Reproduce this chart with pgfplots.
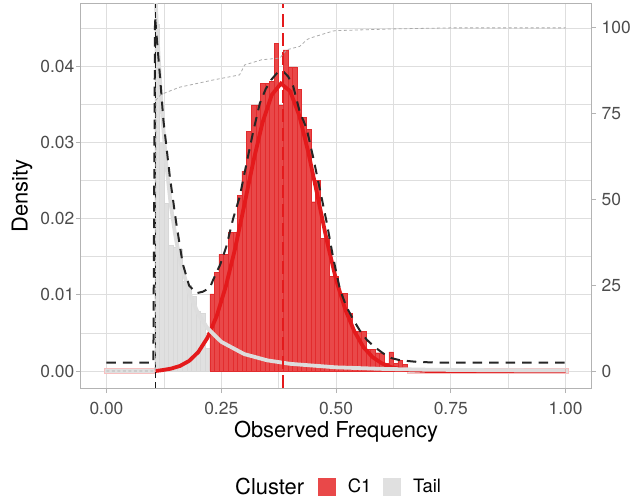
\documentclass[border=0pt]{standalone}
\usepackage{pgfplots}
\pgfplotsset{compat=1.18}
\usepackage{fontspec}
\setmainfont{TeX Gyre Heros}
\definecolor{redbar}{RGB}{233,72,73}
\definecolor{rededge}{RGB}{226,44,46}
\definecolor{redline}{RGB}{228,26,28}
\definecolor{graybar}{RGB}{224,224,224}
\definecolor{grayedge}{RGB}{216,216,216}
\definecolor{grayline}{RGB}{221,221,221}
\definecolor{gridc}{RGB}{222,222,222}
\definecolor{tickc}{RGB}{77,77,77}
\definecolor{framec}{RGB}{179,179,179}
\definecolor{cumc}{RGB}{170,170,170}

\pgfplotstableread{
x y
0.105 0.0455
0.115 0.0300
0.125 0.0220
0.135 0.0165
0.145 0.0162
0.155 0.0160
0.165 0.0118
0.175 0.0112
0.185 0.0098
0.195 0.0078
0.205 0.0076
0.215 0.0030
0.225 0.0030
}\tailbars

\pgfplotstableread{
x y
0.225 0.0101
0.235 0.0129
0.245 0.0153
0.255 0.0153
0.265 0.0182
0.275 0.0182
0.285 0.0230
0.295 0.0262
0.305 0.0314
0.315 0.0349
0.325 0.0349
0.335 0.0377
0.345 0.0377
0.355 0.0380
0.365 0.0430
0.375 0.0349
0.385 0.0421
0.395 0.0399
0.405 0.0399
0.415 0.0369
0.425 0.0333
0.435 0.0317
0.445 0.0222
0.455 0.0250
0.465 0.0174
0.475 0.0174
0.485 0.0124
0.495 0.0124
0.505 0.0102
0.515 0.0102
0.525 0.0076
0.535 0.0052
0.545 0.0052
0.555 0.0052
0.565 0.0028
0.575 0.0028
0.585 0.0024
0.595 0.0024
0.605 0.0010
0.615 0.0025
0.625 0.0010
0.635 0.0014
0.645 0.0009
0.655 0.0009
}\cbars

\pgfplotstableread{
x y
0.107 0.0000
0.120 0.0001
0.140 0.0003
0.160 0.00066
0.180 0.00132
0.200 0.00248
0.220 0.00436
0.240 0.00719
0.260 0.0111
0.280 0.0160
0.300 0.0217
0.320 0.0275
0.340 0.0326
0.360 0.0362
0.380 0.0377
0.400 0.0367
0.420 0.0335
0.440 0.0286
0.460 0.0229
0.480 0.0171
0.500 0.0120
0.520 0.0081
0.540 0.0052
0.560 0.0031
0.580 0.0018
0.600 0.0010
0.620 0.0005
0.650 0.00015
0.700 0.0000
1.000 0.0000
}\ccurve

\pgfplotstableread{
x y
0.107 0.0489
0.110 0.0450
0.120 0.03466
0.130 0.02727
0.140 0.02183
0.150 0.01775
0.160 0.01462
0.180 0.01027
0.200 0.00749
0.220 0.005625
0.250 0.00383
0.300 0.00222
0.350 0.00140
0.400 0.00094
0.500 0.00048
0.600 0.00028
0.700 0.00017
0.800 0.00012
0.900 0.00008
1.000 0.00006
}\tcurve

\pgfplotstableread{
x y
0.000 0.0011
0.1022 0.0011
0.1058 0.0465
0.1094 0.0438
0.1166 0.0386
0.124 0.0329
0.138 0.0255
0.152 0.0194
0.166 0.0141
0.180 0.0112
0.196 0.0102
0.210 0.0104
0.225 0.0109
0.232 0.0119
0.248 0.0140
0.261 0.0163
0.276 0.0200
0.290 0.0228
0.305 0.0272
0.320 0.0315
0.334 0.0351
0.347 0.0370
0.359 0.0382
0.372 0.0391
0.385 0.0393
0.396 0.0386
0.407 0.0373
0.421 0.0340
0.436 0.0318
0.450 0.0281
0.465 0.0238
0.480 0.0194
0.494 0.0148
0.509 0.0106
0.523 0.0084
0.538 0.0067
0.552 0.0053
0.567 0.0041
0.585 0.0031
0.603 0.0023
0.620 0.0017
0.640 0.0014
0.676 0.0012
0.720 0.0011
1.000 0.0011
}\dens

\pgfplotstableread{
x y
0.000 0.0
0.106 0.0
0.108 79.0
0.119 80.6
0.159 82.7
0.232 84.8
0.290 86.3
0.301 89.2
0.338 90.7
0.378 91.2
0.392 93.6
0.421 94.6
0.436 96.5
0.443 97.0
0.494 99.1
0.501 99.2
0.625 99.7
0.750 100.0
1.000 100.0
}\cum

\begin{document}
\begin{tikzpicture}
\pgfplotsset{
  base/.style={
    at={(0,0)}, anchor=south west,
    scale only axis, width=510bp, height=384bp,
    xmin=-0.0555, xmax=1.0555,
    /pgf/number format/assume math mode=true,
    scaled ticks=false,
    tick align=outside, major tick length=5bp, minor tick length=0pt,
    tick style={framec, line width=0.9bp},
    ticklabel style={font=\fontsize{17.5}{20}\selectfont, text=tickc},
  }
}
\begin{axis}[base,
  ymin=-0.00223, ymax=0.04813,
  clip mode=individual,
  axis line style={framec, line width=1bp},
  tick pos=left,
  xtick={0,0.25,0.5,0.75,1}, xticklabels={0.00,0.25,0.50,0.75,1.00},
  ytick={0,0.01,0.02,0.03,0.04}, yticklabels={0.00,0.01,0.02,0.03,0.04},
  minor xtick={0.125,0.375,0.625,0.875},
  minor ytick={0.005,0.015,0.025,0.035,0.045},
  grid=both,
  major grid style={gridc, line width=0.9bp},
  minor grid style={gridc, line width=0.6bp},
  xlabel={Observed Frequency}, ylabel={Density},
  label style={font=\fontsize{22}{24}\selectfont, text=black},
  xlabel style={yshift=-1bp},
  ylabel style={yshift=3bp},
  yticklabel style={inner sep=1.5bp},
  xticklabel style={inner sep=2bp, yshift=-7bp},
  legend style={at={(axis description cs:0.4645,-0.257)}, anchor=west, draw=none, fill=none,
    legend columns=-1, font=\fontsize{18.5}{21}\selectfont,
    /tikz/every odd column/.append style={column sep=10.5bp},
    /tikz/every even column/.append style={column sep=10bp},
    inner sep=0pt, outer sep=0pt},
  legend cell align=left,
]
% zero-height bins
\addplot[fill=graybar, draw=redbar!35, line width=0.6bp, forget plot]
  coordinates {(-0.005,-0.0003) (0.105,-0.0003) (0.105,0.0003) (-0.005,0.0003)} -- cycle;
\addplot[fill=graybar, draw=redbar!35, line width=0.6bp, forget plot]
  coordinates {(0.655,-0.0003) (1.005,-0.0003) (1.005,0.0003) (0.655,0.0003)} -- cycle;
% histograms
\addplot[ybar interval, fill=graybar, draw=grayedge, line width=0.3bp, forget plot] table {\tailbars};
\addplot[ybar interval, fill=redbar, draw=rededge, line width=0.3bp, forget plot] table {\cbars};
% fitted curves
\addplot[redline, line width=3.8bp, forget plot] table {\ccurve};
\addplot[grayline, line width=3.8bp, forget plot] table {\tcurve};
% kernel density
\addplot[black!85, line width=2bp, dash pattern=on 9.5bp off 7bp, forget plot] table {\dens};
% vertical lines
\addplot[black!90, line width=1.2bp, dash pattern=on 6bp off 4bp, forget plot]
  coordinates {(0.107,-0.00223) (0.107,0.04813)};
\addplot[redline, line width=2.2bp, dash pattern=on 13bp off 6bp, forget plot]
  coordinates {(0.384,-0.00223) (0.384,0.04813)};
% legend
\addlegendimage{legend image code/.code={\fill[redbar] (0bp,-8.5bp) rectangle (17bp,8.5bp);}}
\addlegendentry{C1}
\addlegendimage{legend image code/.code={\fill[graybar] (0bp,-8.5bp) rectangle (17bp,8.5bp);}}
\addlegendentry{Tail}
\node[anchor=east, inner sep=0pt, font=\fontsize{22}{24}\selectfont] at (axis description cs:0.438,-0.257) {Cluster};
\end{axis}
\begin{axis}[base,
  ymin=-4.956, ymax=106.96,
  hide x axis, axis y line*=right,
  axis line style={draw=none},
  ytick={0,25,50,75,100}, ytick pos=right,
  yticklabel style={inner sep=1.5bp, xshift=4bp},
]
\addplot[cumc, line width=0.8bp, dash pattern=on 3bp off 2.5bp] table {\cum};
\end{axis}
\pgfresetboundingbox
\path (-81bp,-113bp) rectangle (553bp,388bp);
\end{tikzpicture}
\end{document}
